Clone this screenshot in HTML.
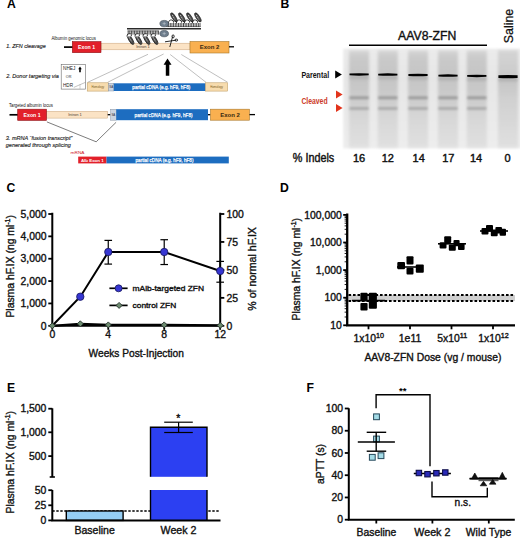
<!DOCTYPE html><html><head><meta charset="utf-8"><style>html,body{margin:0;padding:0;background:#fff;}svg{display:block;font-family:"Liberation Sans",sans-serif;}</style></head><body>
<svg width="520" height="538" viewBox="0 0 520 538">
<rect x="0" y="0" width="520" height="538" fill="#fff" stroke="none" stroke-width="0" />
<text x="7.0" y="8.4" font-size="12.2" fill="#000" font-weight="bold" font-style="normal" text-anchor="start" >A</text>
<text x="6.2" y="47.8" font-size="6" fill="#1e1e1e" font-weight="normal" font-style="italic" text-anchor="start" textLength="39.5" lengthAdjust="spacingAndGlyphs" stroke="#1e1e1e" stroke-width="0.15">1. ZFN cleavage</text>
<text x="51.5" y="40.3" font-size="4.8" fill="#111" font-weight="normal" font-style="normal" text-anchor="start" textLength="44.3" lengthAdjust="spacingAndGlyphs" >Albumin genomic locus</text>
<line x1="64" y1="47.1" x2="73" y2="47.1" stroke="#000" stroke-width="1.7" />
<rect x="101" y="43.2" width="89" height="6.6" fill="#fbe3c5" stroke="#c9a57c" stroke-width="0.5" />
<text x="143" y="48.0" font-size="4" fill="#4a4035" font-weight="normal" font-style="normal" text-anchor="middle" >Intron 1</text>
<rect x="72.3" y="41.6" width="28.7" height="11.1" fill="#e2202a" stroke="#8f1518" stroke-width="0.6" />
<text x="86.6" y="48.9" font-size="5.2" fill="#fff" font-weight="bold" font-style="normal" text-anchor="middle" >Exon 1</text>
<rect x="190" y="41.5" width="39" height="11.5" fill="#f9b050" stroke="#a8782a" stroke-width="0.6" />
<text x="209.5" y="49.4" font-size="6" fill="#3a2a10" font-weight="bold" font-style="normal" text-anchor="middle" >Exon 2</text>
<line x1="229" y1="46.8" x2="234" y2="46.8" stroke="#000" stroke-width="1.3" />
<line x1="127" y1="28.8" x2="201" y2="28.8" stroke="#2a2a2a" stroke-width="1.6" />
<line x1="127.5" y1="30.9" x2="158.5" y2="30.9" stroke="#444" stroke-width="0.6" />
<line x1="128.2" y1="30.6" x2="128.2" y2="34.6" stroke="#2a2a2a" stroke-width="0.85" />
<line x1="129.79999999999998" y1="30.6" x2="129.79999999999998" y2="34.6" stroke="#2a2a2a" stroke-width="0.85" />
<line x1="131.39999999999998" y1="30.6" x2="131.39999999999998" y2="34.6" stroke="#2a2a2a" stroke-width="0.85" />
<line x1="133.0" y1="30.6" x2="133.0" y2="34.6" stroke="#2a2a2a" stroke-width="0.85" />
<line x1="134.6" y1="30.6" x2="134.6" y2="34.6" stroke="#2a2a2a" stroke-width="0.85" />
<line x1="136.2" y1="30.6" x2="136.2" y2="34.6" stroke="#2a2a2a" stroke-width="0.85" />
<line x1="137.79999999999998" y1="30.6" x2="137.79999999999998" y2="34.6" stroke="#2a2a2a" stroke-width="0.85" />
<line x1="139.39999999999998" y1="30.6" x2="139.39999999999998" y2="34.6" stroke="#2a2a2a" stroke-width="0.85" />
<line x1="141.0" y1="30.6" x2="141.0" y2="34.6" stroke="#2a2a2a" stroke-width="0.85" />
<line x1="142.6" y1="30.6" x2="142.6" y2="34.6" stroke="#2a2a2a" stroke-width="0.85" />
<line x1="144.2" y1="30.6" x2="144.2" y2="34.6" stroke="#2a2a2a" stroke-width="0.85" />
<line x1="145.79999999999998" y1="30.6" x2="145.79999999999998" y2="34.6" stroke="#2a2a2a" stroke-width="0.85" />
<line x1="147.39999999999998" y1="30.6" x2="147.39999999999998" y2="34.6" stroke="#2a2a2a" stroke-width="0.85" />
<line x1="149.0" y1="30.6" x2="149.0" y2="34.6" stroke="#2a2a2a" stroke-width="0.85" />
<line x1="150.6" y1="30.6" x2="150.6" y2="34.6" stroke="#2a2a2a" stroke-width="0.85" />
<line x1="152.2" y1="30.6" x2="152.2" y2="34.6" stroke="#2a2a2a" stroke-width="0.85" />
<line x1="153.79999999999998" y1="30.6" x2="153.79999999999998" y2="34.6" stroke="#2a2a2a" stroke-width="0.85" />
<line x1="155.39999999999998" y1="30.6" x2="155.39999999999998" y2="34.6" stroke="#2a2a2a" stroke-width="0.85" />
<line x1="157.0" y1="30.6" x2="157.0" y2="34.6" stroke="#2a2a2a" stroke-width="0.85" />
<line x1="158.6" y1="30.6" x2="158.6" y2="34.6" stroke="#2a2a2a" stroke-width="0.85" />
<ellipse cx="130.7" cy="39.8" rx="5.3" ry="1.8" transform="rotate(60 130.7 39.8)" fill="#4a4a4a" stroke="#1e1e1e" stroke-width="0.7"/>
<path d="M129.0 37.2 L131.6 41.6" stroke="#f0f0f0" stroke-width="0.7" stroke-dasharray="1.6 0.8"/>
<path d="M126.8 36.4 Q127.0 33.0 130.2 33.6 Q132.2 34.4 131.2 36.4" stroke="#222" stroke-width="0.9" fill="#fff"/>
<ellipse cx="138.7" cy="39.8" rx="5.3" ry="1.8" transform="rotate(60 138.7 39.8)" fill="#4a4a4a" stroke="#1e1e1e" stroke-width="0.7"/>
<path d="M137.0 37.2 L139.6 41.6" stroke="#f0f0f0" stroke-width="0.7" stroke-dasharray="1.6 0.8"/>
<path d="M134.79999999999998 36.4 Q135.0 33.0 138.2 33.6 Q140.2 34.4 139.2 36.4" stroke="#222" stroke-width="0.9" fill="#fff"/>
<ellipse cx="146.7" cy="39.8" rx="5.3" ry="1.8" transform="rotate(60 146.7 39.8)" fill="#4a4a4a" stroke="#1e1e1e" stroke-width="0.7"/>
<path d="M145.0 37.2 L147.6 41.6" stroke="#f0f0f0" stroke-width="0.7" stroke-dasharray="1.6 0.8"/>
<path d="M142.79999999999998 36.4 Q143.0 33.0 146.2 33.6 Q148.2 34.4 147.2 36.4" stroke="#222" stroke-width="0.9" fill="#fff"/>
<ellipse cx="154.7" cy="39.8" rx="5.3" ry="1.8" transform="rotate(60 154.7 39.8)" fill="#4a4a4a" stroke="#1e1e1e" stroke-width="0.7"/>
<path d="M153.0 37.2 L155.6 41.6" stroke="#f0f0f0" stroke-width="0.7" stroke-dasharray="1.6 0.8"/>
<path d="M150.79999999999998 36.4 Q151.0 33.0 154.2 33.6 Q156.2 34.4 155.2 36.4" stroke="#222" stroke-width="0.9" fill="#fff"/>
<line x1="166.5" y1="26.6" x2="200.5" y2="26.6" stroke="#444" stroke-width="0.6" />
<line x1="167.0" y1="23.0" x2="167.0" y2="27" stroke="#2a2a2a" stroke-width="0.85" />
<line x1="168.65" y1="23.0" x2="168.65" y2="27" stroke="#2a2a2a" stroke-width="0.85" />
<line x1="170.3" y1="23.0" x2="170.3" y2="27" stroke="#2a2a2a" stroke-width="0.85" />
<line x1="171.95" y1="23.0" x2="171.95" y2="27" stroke="#2a2a2a" stroke-width="0.85" />
<line x1="173.6" y1="23.0" x2="173.6" y2="27" stroke="#2a2a2a" stroke-width="0.85" />
<line x1="175.25" y1="23.0" x2="175.25" y2="27" stroke="#2a2a2a" stroke-width="0.85" />
<line x1="176.9" y1="23.0" x2="176.9" y2="27" stroke="#2a2a2a" stroke-width="0.85" />
<line x1="178.55" y1="23.0" x2="178.55" y2="27" stroke="#2a2a2a" stroke-width="0.85" />
<line x1="180.2" y1="23.0" x2="180.2" y2="27" stroke="#2a2a2a" stroke-width="0.85" />
<line x1="181.85" y1="23.0" x2="181.85" y2="27" stroke="#2a2a2a" stroke-width="0.85" />
<line x1="183.5" y1="23.0" x2="183.5" y2="27" stroke="#2a2a2a" stroke-width="0.85" />
<line x1="185.15" y1="23.0" x2="185.15" y2="27" stroke="#2a2a2a" stroke-width="0.85" />
<line x1="186.8" y1="23.0" x2="186.8" y2="27" stroke="#2a2a2a" stroke-width="0.85" />
<line x1="188.45" y1="23.0" x2="188.45" y2="27" stroke="#2a2a2a" stroke-width="0.85" />
<line x1="190.1" y1="23.0" x2="190.1" y2="27" stroke="#2a2a2a" stroke-width="0.85" />
<line x1="191.75" y1="23.0" x2="191.75" y2="27" stroke="#2a2a2a" stroke-width="0.85" />
<line x1="193.4" y1="23.0" x2="193.4" y2="27" stroke="#2a2a2a" stroke-width="0.85" />
<line x1="195.05" y1="23.0" x2="195.05" y2="27" stroke="#2a2a2a" stroke-width="0.85" />
<line x1="196.7" y1="23.0" x2="196.7" y2="27" stroke="#2a2a2a" stroke-width="0.85" />
<line x1="198.35" y1="23.0" x2="198.35" y2="27" stroke="#2a2a2a" stroke-width="0.85" />
<line x1="200.0" y1="23.0" x2="200.0" y2="27" stroke="#2a2a2a" stroke-width="0.85" />
<ellipse cx="173.9" cy="17.4" rx="5.2" ry="1.8" transform="rotate(58 173.9 17.4)" fill="#4a4a4a" stroke="#1e1e1e" stroke-width="0.7"/>
<path d="M172.3 15.0 L174.9 19.6" stroke="#f0f0f0" stroke-width="0.7" stroke-dasharray="1.6 0.8"/>
<path d="M168.3 23.4 Q168.70000000000002 19.6 171.70000000000002 20.0 Q174.10000000000002 20.6 173.5 22.6" stroke="#222" stroke-width="0.9" fill="none"/>
<ellipse cx="181.9" cy="17.4" rx="5.2" ry="1.8" transform="rotate(58 181.9 17.4)" fill="#4a4a4a" stroke="#1e1e1e" stroke-width="0.7"/>
<path d="M180.3 15.0 L182.9 19.6" stroke="#f0f0f0" stroke-width="0.7" stroke-dasharray="1.6 0.8"/>
<path d="M176.3 23.4 Q176.70000000000002 19.6 179.70000000000002 20.0 Q182.10000000000002 20.6 181.5 22.6" stroke="#222" stroke-width="0.9" fill="none"/>
<ellipse cx="189.9" cy="17.4" rx="5.2" ry="1.8" transform="rotate(58 189.9 17.4)" fill="#4a4a4a" stroke="#1e1e1e" stroke-width="0.7"/>
<path d="M188.3 15.0 L190.9 19.6" stroke="#f0f0f0" stroke-width="0.7" stroke-dasharray="1.6 0.8"/>
<path d="M184.3 23.4 Q184.70000000000002 19.6 187.70000000000002 20.0 Q190.10000000000002 20.6 189.5 22.6" stroke="#222" stroke-width="0.9" fill="none"/>
<ellipse cx="197.9" cy="17.4" rx="5.2" ry="1.8" transform="rotate(58 197.9 17.4)" fill="#4a4a4a" stroke="#1e1e1e" stroke-width="0.7"/>
<path d="M196.3 15.0 L198.9 19.6" stroke="#f0f0f0" stroke-width="0.7" stroke-dasharray="1.6 0.8"/>
<path d="M192.3 23.4 Q192.70000000000002 19.6 195.70000000000002 20.0 Q198.10000000000002 20.6 197.5 22.6" stroke="#222" stroke-width="0.9" fill="none"/>
<ellipse cx="164.2" cy="23.6" rx="4.3" ry="3.2" fill="#6f7e8d" stroke="#3e4853" stroke-width="0.6"/>
<ellipse cx="164.2" cy="33.6" rx="4.3" ry="3.2" fill="#6f7e8d" stroke="#3e4853" stroke-width="0.6"/>
<path d="M162.6 23.6 h3.2 M164.2 22 v3.2 M162.6 33.6 h3.2 M164.2 32 v3.2" stroke="#c8d0d8" stroke-width="0.5"/>
<g stroke="#111" stroke-width="0.9" fill="none"><path d="M165 41.8 L176 40.2"/><path d="M169.8 47 L172.6 36.6"/><ellipse cx="173.1" cy="36.4" rx="1.1" ry="1.5"/><ellipse cx="176.3" cy="40.1" rx="1.4" ry="1"/></g>
<text x="6.2" y="78.4" font-size="6" fill="#1e1e1e" font-weight="normal" font-style="italic" text-anchor="start" textLength="52.7" lengthAdjust="spacingAndGlyphs" stroke="#1e1e1e" stroke-width="0.15">2. Donor targeting via</text>
<rect x="61.2" y="64.4" width="24.4" height="24.7" fill="#fff" stroke="#6a6a6a" stroke-width="0.6" />
<text x="63" y="70.3" font-size="4.6" fill="#222" font-weight="normal" font-style="normal" text-anchor="start" textLength="12.4" lengthAdjust="spacingAndGlyphs" >NHEJ</text>
<path d="M80 66.6 L81.8 69.3 L80.8 69.3 L80.8 72.3 L79.2 72.3 L79.2 69.3 L78.2 69.3 Z" fill="#000"/>
<text x="65.8" y="77.6" font-size="3.4" fill="#333" font-weight="normal" font-style="normal" text-anchor="start" textLength="5.6" lengthAdjust="spacingAndGlyphs" >OR</text>
<text x="63" y="86.7" font-size="4.6" fill="#222" font-weight="normal" font-style="normal" text-anchor="start" textLength="10" lengthAdjust="spacingAndGlyphs" >HDR</text>
<line x1="73.8" y1="87.4" x2="85.5" y2="82.3" stroke="#888" stroke-width="0.5" />
<line x1="80" y1="84" x2="80" y2="89" stroke="#aaa" stroke-width="0.5" />
<line x1="87.7" y1="82.3" x2="148" y2="54.3" stroke="#8a8a8a" stroke-width="0.55" />
<line x1="107.7" y1="82.3" x2="163.6" y2="54" stroke="#8a8a8a" stroke-width="0.55" />
<line x1="170.2" y1="54.5" x2="206" y2="82.3" stroke="#8a8a8a" stroke-width="0.55" />
<line x1="181.3" y1="54.5" x2="227.7" y2="82.3" stroke="#8a8a8a" stroke-width="0.55" />
<path d="M167.5 58.6 L171.5 64.8 L169.3 64.8 L169.3 75.7 L165.8 75.7 L165.8 64.8 L163.6 64.8 Z" fill="#000"/>
<rect x="87.2" y="82.8" width="21.3" height="8.3" fill="#f7dcae" stroke="#b8955a" stroke-width="0.5" />
<text x="97.8" y="88" font-size="2.8" fill="#7a5a20" font-weight="normal" font-style="normal" text-anchor="middle" >Homology</text>
<rect x="108.5" y="83.3" width="5.3" height="7.7" fill="#cad4e0" stroke="#7a8799" stroke-width="0.4" />
<text x="111.2" y="88.2" font-size="2.8" fill="#223" font-weight="normal" font-style="normal" text-anchor="middle" >SA</text>
<rect x="113.8" y="83.3" width="91.7" height="7.7" fill="#1d6dc0" stroke="none" stroke-width="0" />
<text x="132.3" y="89.1" font-size="5.2" fill="#fff" font-weight="normal" font-style="normal" text-anchor="start" textLength="58" lengthAdjust="spacingAndGlyphs" stroke="#fff" stroke-width="0.25">partial cDNA (e.g. hF9, hF8)</text>
<rect x="205.5" y="82.8" width="22.2" height="8.3" fill="#f7dcae" stroke="#b8955a" stroke-width="0.5" />
<text x="216.6" y="88" font-size="2.8" fill="#7a5a20" font-weight="normal" font-style="normal" text-anchor="middle" >Homology</text>
<text x="8.9" y="107.3" font-size="4.8" fill="#111" font-weight="normal" font-style="normal" text-anchor="start" textLength="44" lengthAdjust="spacingAndGlyphs" >Targeted albumin locus</text>
<line x1="9.5" y1="114.8" x2="18" y2="114.8" stroke="#000" stroke-width="1.7" />
<rect x="46.5" y="111.3" width="61.2" height="6.8" fill="#fbe3c5" stroke="#c9a57c" stroke-width="0.5" />
<text x="75" y="116.3" font-size="4" fill="#4a4035" font-weight="normal" font-style="normal" text-anchor="middle" >Intron 1</text>
<rect x="17.7" y="109.2" width="28.8" height="11.2" fill="#e2202a" stroke="#8f1518" stroke-width="0.6" />
<text x="32.1" y="116.6" font-size="5.2" fill="#fff" font-weight="bold" font-style="normal" text-anchor="middle" >Exon 1</text>
<line x1="107.7" y1="114.7" x2="110.5" y2="114.7" stroke="#000" stroke-width="1.3" />
<rect x="110.5" y="109.2" width="5.7" height="11" fill="#cad4e0" stroke="#7a8799" stroke-width="0.4" />
<text x="113.3" y="116.3" font-size="2.8" fill="#223" font-weight="normal" font-style="normal" text-anchor="middle" >SA</text>
<rect x="116.2" y="109.2" width="91.8" height="11" fill="#1d6dc0" stroke="none" stroke-width="0" />
<text x="134.6" y="117" font-size="5.6" fill="#fff" font-weight="normal" font-style="normal" text-anchor="start" textLength="58" lengthAdjust="spacingAndGlyphs" stroke="#fff" stroke-width="0.25">partial cDNA (e.g. hF9, hF8)</text>
<line x1="208" y1="114.7" x2="210.5" y2="114.7" stroke="#000" stroke-width="1.3" />
<rect x="210.5" y="109.2" width="39" height="11" fill="#f9b050" stroke="#a8782a" stroke-width="0.6" />
<text x="230" y="117" font-size="6" fill="#3a2a10" font-weight="bold" font-style="normal" text-anchor="middle" >Exon 2</text>
<line x1="249.5" y1="114.6" x2="255" y2="114.6" stroke="#000" stroke-width="1.3" />
<path d="M46.9 121.9 L96.2 141.8 L116.1 122.3" stroke="#444" stroke-width="0.7" fill="none"/>
<text x="5.8" y="140" font-size="6" fill="#1e1e1e" font-weight="normal" font-style="italic" text-anchor="start" textLength="66.5" lengthAdjust="spacingAndGlyphs" stroke="#1e1e1e" stroke-width="0.15">3. mRNA “fusion transcript”</text>
<text x="5.8" y="146.8" font-size="6" fill="#1e1e1e" font-weight="normal" font-style="italic" text-anchor="start" textLength="65" lengthAdjust="spacingAndGlyphs" stroke="#1e1e1e" stroke-width="0.15">generated through splicing</text>
<text x="70.5" y="153.5" font-size="4.2" fill="#d0202a" font-weight="normal" font-style="normal" text-anchor="start" textLength="14" lengthAdjust="spacingAndGlyphs" >mRNA</text>
<rect x="78.2" y="156.6" width="28.3" height="6.8" fill="#e2202a" stroke="none" stroke-width="0" />
<text x="92.3" y="161.8" font-size="4.4" fill="#fff" font-weight="bold" font-style="normal" text-anchor="middle" >Alb Exon 1</text>
<rect x="106.5" y="156.6" width="122.3" height="6.8" fill="#1d6dc0" stroke="none" stroke-width="0" />
<text x="135.5" y="161.9" font-size="5.2" fill="#fff" font-weight="normal" font-style="normal" text-anchor="start" textLength="58" lengthAdjust="spacingAndGlyphs" stroke="#fff" stroke-width="0.25">partial cDNA (e.g. hF9, hF8)</text>
<text x="280.4" y="8.4" font-size="12.2" fill="#000" font-weight="bold" font-style="normal" text-anchor="start" >B</text>
<text x="398.1" y="39.5" font-size="12" fill="#111" font-weight="normal" font-style="normal" text-anchor="start" textLength="58.2" lengthAdjust="spacingAndGlyphs" stroke="#111" stroke-width="0.36">AAV8-ZFN</text>
<line x1="349" y1="45.2" x2="487" y2="45.2" stroke="#000" stroke-width="1.5" />
<text x="0" y="0" font-size="12" fill="#111" stroke="#111" stroke-width="0.25" transform="translate(512.7,43.2) rotate(-90)" textLength="34.4" lengthAdjust="spacingAndGlyphs">Saline</text>
<defs>
<linearGradient id="lane" x1="0" y1="0" x2="0" y2="1">
<stop offset="0" stop-color="#d6d6d6"/><stop offset="0.07" stop-color="#cacaca"/><stop offset="0.2" stop-color="#c6c6c6"/>
<stop offset="0.31" stop-color="#c5c5c5"/><stop offset="0.41" stop-color="#c9c9c9"/><stop offset="0.52" stop-color="#cdcdcd"/><stop offset="0.67" stop-color="#d6d6d6"/><stop offset="1" stop-color="#e0e0e0"/></linearGradient>
<linearGradient id="lane6" x1="0" y1="0" x2="0" y2="1">
<stop offset="0" stop-color="#d4d4d4"/><stop offset="0.2" stop-color="#cdcdcd"/><stop offset="0.32" stop-color="#c6c6c6"/><stop offset="0.5" stop-color="#d0d0d0"/><stop offset="1" stop-color="#e0e0e0"/></linearGradient>
<linearGradient id="gelbg" x1="0" y1="0" x2="0" y2="1">
<stop offset="0" stop-color="#ebebeb"/><stop offset="0.3" stop-color="#e6e6e6"/><stop offset="1" stop-color="#ededed"/></linearGradient>
<filter id="blur1" x="-20%" y="-100%" width="140%" height="300%"><feGaussianBlur stdDeviation="0.7"/></filter>
<filter id="blur1b" x="-20%" y="-100%" width="140%" height="300%"><feGaussianBlur stdDeviation="0.9"/></filter>
<filter id="blur2" x="-30%" y="-10%" width="160%" height="120%"><feGaussianBlur stdDeviation="1.8"/></filter>
<filter id="blur3" x="-10%" y="-10%" width="120%" height="120%"><feGaussianBlur stdDeviation="1.0"/></filter>
</defs>
<g filter="url(#blur3)">
<rect x="343.3" y="48.8" width="178" height="99.6" fill="url(#gelbg)" stroke="none" stroke-width="0" />
</g>
<g filter="url(#blur2)">
<rect x="349.1" y="50.5" width="20" height="97" fill="url(#lane)" stroke="none" stroke-width="0" />
<rect x="377.8" y="50.5" width="20" height="97" fill="url(#lane)" stroke="none" stroke-width="0" />
<rect x="408.0" y="50.5" width="20" height="97" fill="url(#lane)" stroke="none" stroke-width="0" />
<rect x="438.0" y="50.5" width="20" height="97" fill="url(#lane)" stroke="none" stroke-width="0" />
<rect x="466.8" y="50.5" width="20" height="97" fill="url(#lane)" stroke="none" stroke-width="0" />
<rect x="498.0" y="50.5" width="20" height="97" fill="url(#lane6)" stroke="none" stroke-width="0" />
</g>
<g filter="url(#blur1b)">
<rect x="349.6" y="75.4" width="19" height="4" fill="#a8a8a8" stroke="none" stroke-width="0" opacity="0.6"/>
<rect x="349.6" y="96.39999999999999" width="19" height="2.8" fill="#9a9a9a" stroke="none" stroke-width="0" />
<rect x="349.6" y="107.0" width="19" height="2.8" fill="#aaaaaa" stroke="none" stroke-width="0" />
<rect x="378.3" y="75.6" width="19" height="4" fill="#a8a8a8" stroke="none" stroke-width="0" opacity="0.6"/>
<rect x="378.3" y="96.39999999999999" width="19" height="2.8" fill="#9a9a9a" stroke="none" stroke-width="0" />
<rect x="378.3" y="107.0" width="19" height="2.8" fill="#aaaaaa" stroke="none" stroke-width="0" />
<rect x="408.5" y="76.0" width="19" height="4" fill="#a8a8a8" stroke="none" stroke-width="0" opacity="0.6"/>
<rect x="408.5" y="96.39999999999999" width="19" height="2.8" fill="#9a9a9a" stroke="none" stroke-width="0" />
<rect x="408.5" y="107.0" width="19" height="2.8" fill="#aaaaaa" stroke="none" stroke-width="0" />
<rect x="438.5" y="76.6" width="19" height="4" fill="#a8a8a8" stroke="none" stroke-width="0" opacity="0.6"/>
<rect x="438.5" y="96.39999999999999" width="19" height="2.8" fill="#9a9a9a" stroke="none" stroke-width="0" />
<rect x="438.5" y="107.0" width="19" height="2.8" fill="#aaaaaa" stroke="none" stroke-width="0" />
<rect x="467.3" y="76.9" width="19" height="4" fill="#a8a8a8" stroke="none" stroke-width="0" opacity="0.6"/>
<rect x="467.3" y="96.39999999999999" width="19" height="2.8" fill="#9a9a9a" stroke="none" stroke-width="0" />
<rect x="467.3" y="107.0" width="19" height="2.8" fill="#aaaaaa" stroke="none" stroke-width="0" />
<rect x="498.5" y="77.6" width="19" height="4" fill="#a8a8a8" stroke="none" stroke-width="0" opacity="0.6"/>
</g>
<g filter="url(#blur1)">
<path d="M349.5 73.45 Q359.1 72.85000000000001 368.70000000000005 73.45 L368.70000000000005 75.35000000000001 Q359.1 75.95 349.5 75.35000000000001 Z" fill="#050505"/>
<path d="M378.2 73.64999999999999 Q387.8 73.05 397.40000000000003 73.64999999999999 L397.40000000000003 75.55 Q387.8 76.14999999999999 378.2 75.55 Z" fill="#050505"/>
<path d="M408.4 74.05 Q418.0 73.45 427.6 74.05 L427.6 75.95 Q418.0 76.55 408.4 75.95 Z" fill="#050505"/>
<path d="M438.4 74.64999999999999 Q448.0 74.05 457.6 74.64999999999999 L457.6 76.55 Q448.0 77.14999999999999 438.4 76.55 Z" fill="#050505"/>
<path d="M467.2 74.95 Q476.8 74.35000000000001 486.40000000000003 74.95 L486.40000000000003 76.85000000000001 Q476.8 77.45 467.2 76.85000000000001 Z" fill="#050505"/>
<path d="M498.4 75.3 Q508.0 74.7 517.6 75.3 L517.6 77.89999999999999 Q508.0 78.49999999999999 498.4 77.89999999999999 Z" fill="#050505"/>
</g>
<text x="301.4" y="77.7" font-size="8.5" fill="#111" font-weight="bold" font-style="normal" text-anchor="start" textLength="27.7" lengthAdjust="spacingAndGlyphs" >Parental</text>
<path d="M335.2 70.6 L341.9 74.5 L335.2 78.4 Z" fill="#000"/>
<text x="301.4" y="103.8" font-size="8.5" fill="#cc3a28" font-weight="bold" font-style="normal" text-anchor="start" textLength="26.2" lengthAdjust="spacingAndGlyphs" >Cleaved</text>
<path d="M336.0 90.6 L342.6 94.5 L336.0 98.4 Z" fill="#e2341c"/>
<path d="M336.0 104.1 L342.6 108.0 L336.0 111.9 Z" fill="#e2341c"/>
<text x="292.8" y="161.5" font-size="12.2" fill="#111" font-weight="normal" font-style="normal" text-anchor="start" textLength="41.4" lengthAdjust="spacingAndGlyphs" stroke="#111" stroke-width="0.42">% Indels</text>
<text x="359.1" y="161.6" font-size="11" fill="#111" font-weight="normal" font-style="normal" text-anchor="middle" stroke="#111" stroke-width="0.42">16</text>
<text x="387.8" y="161.6" font-size="11" fill="#111" font-weight="normal" font-style="normal" text-anchor="middle" stroke="#111" stroke-width="0.42">12</text>
<text x="418.7" y="161.6" font-size="11" fill="#111" font-weight="normal" font-style="normal" text-anchor="middle" stroke="#111" stroke-width="0.42">14</text>
<text x="448.3" y="161.6" font-size="11" fill="#111" font-weight="normal" font-style="normal" text-anchor="middle" stroke="#111" stroke-width="0.42">17</text>
<text x="476.0" y="161.6" font-size="11" fill="#111" font-weight="normal" font-style="normal" text-anchor="middle" stroke="#111" stroke-width="0.42">14</text>
<text x="507.6" y="161.6" font-size="11" fill="#111" font-weight="normal" font-style="normal" text-anchor="middle" stroke="#111" stroke-width="0.42">0</text>
<text x="6.6" y="192.4" font-size="12.2" fill="#000" font-weight="bold" font-style="normal" text-anchor="start" >C</text>
<path d="M52.3 212.8 L52.3 325.8 L220.2 325.8 L220.2 212.8" stroke="#000" stroke-width="2" fill="none"/>
<line x1="48.3" y1="325.8" x2="52.3" y2="325.8" stroke="#000" stroke-width="1.8" />
<text x="46.6" y="329.5" font-size="10.4" fill="#111" font-weight="normal" font-style="normal" text-anchor="end" stroke="#111" stroke-width="0.36">0</text>
<line x1="48.3" y1="303.44" x2="52.3" y2="303.44" stroke="#000" stroke-width="1.8" />
<text x="46.6" y="307.14" font-size="10.4" fill="#111" font-weight="normal" font-style="normal" text-anchor="end" stroke="#111" stroke-width="0.36">1,000</text>
<line x1="48.3" y1="281.08000000000004" x2="52.3" y2="281.08000000000004" stroke="#000" stroke-width="1.8" />
<text x="46.6" y="284.78000000000003" font-size="10.4" fill="#111" font-weight="normal" font-style="normal" text-anchor="end" stroke="#111" stroke-width="0.36">2,000</text>
<line x1="48.3" y1="258.72" x2="52.3" y2="258.72" stroke="#000" stroke-width="1.8" />
<text x="46.6" y="262.42" font-size="10.4" fill="#111" font-weight="normal" font-style="normal" text-anchor="end" stroke="#111" stroke-width="0.36">3,000</text>
<line x1="48.3" y1="236.36" x2="52.3" y2="236.36" stroke="#000" stroke-width="1.8" />
<text x="46.6" y="240.06" font-size="10.4" fill="#111" font-weight="normal" font-style="normal" text-anchor="end" stroke="#111" stroke-width="0.36">4,000</text>
<line x1="48.3" y1="214.00000000000003" x2="52.3" y2="214.00000000000003" stroke="#000" stroke-width="1.8" />
<text x="46.6" y="217.70000000000002" font-size="10.4" fill="#111" font-weight="normal" font-style="normal" text-anchor="end" stroke="#111" stroke-width="0.36">5,000</text>
<line x1="220.2" y1="325.8" x2="224.3" y2="325.8" stroke="#000" stroke-width="1.8" />
<text x="226.4" y="329.5" font-size="10.4" fill="#111" font-weight="normal" font-style="normal" text-anchor="start" stroke="#111" stroke-width="0.36">0</text>
<line x1="220.2" y1="297.85" x2="224.3" y2="297.85" stroke="#000" stroke-width="1.8" />
<text x="226.4" y="301.55" font-size="10.4" fill="#111" font-weight="normal" font-style="normal" text-anchor="start" stroke="#111" stroke-width="0.36">25</text>
<line x1="220.2" y1="269.90000000000003" x2="224.3" y2="269.90000000000003" stroke="#000" stroke-width="1.8" />
<text x="226.4" y="273.6" font-size="10.4" fill="#111" font-weight="normal" font-style="normal" text-anchor="start" stroke="#111" stroke-width="0.36">50</text>
<line x1="220.2" y1="241.95000000000002" x2="224.3" y2="241.95000000000002" stroke="#000" stroke-width="1.8" />
<text x="226.4" y="245.65" font-size="10.4" fill="#111" font-weight="normal" font-style="normal" text-anchor="start" stroke="#111" stroke-width="0.36">75</text>
<line x1="220.2" y1="214.00000000000003" x2="224.3" y2="214.00000000000003" stroke="#000" stroke-width="1.8" />
<text x="226.4" y="217.70000000000002" font-size="10.4" fill="#111" font-weight="normal" font-style="normal" text-anchor="start" stroke="#111" stroke-width="0.36">100</text>
<line x1="52.3" y1="325.8" x2="52.3" y2="329.8" stroke="#000" stroke-width="1.8" />
<text x="52.3" y="337.6" font-size="10.4" fill="#111" font-weight="normal" font-style="normal" text-anchor="middle" stroke="#111" stroke-width="0.36">0</text>
<line x1="108.25999999999999" y1="325.8" x2="108.25999999999999" y2="329.8" stroke="#000" stroke-width="1.8" />
<text x="108.25999999999999" y="337.6" font-size="10.4" fill="#111" font-weight="normal" font-style="normal" text-anchor="middle" stroke="#111" stroke-width="0.36">4</text>
<line x1="164.22" y1="325.8" x2="164.22" y2="329.8" stroke="#000" stroke-width="1.8" />
<text x="164.22" y="337.6" font-size="10.4" fill="#111" font-weight="normal" font-style="normal" text-anchor="middle" stroke="#111" stroke-width="0.36">8</text>
<line x1="220.18" y1="325.8" x2="220.18" y2="329.8" stroke="#000" stroke-width="1.8" />
<text x="220.18" y="337.6" font-size="10.4" fill="#111" font-weight="normal" font-style="normal" text-anchor="middle" stroke="#111" stroke-width="0.36">12</text>
<text x="88.6" y="357.2" font-size="10.4" fill="#111" font-weight="normal" font-style="normal" text-anchor="start" textLength="95.2" lengthAdjust="spacingAndGlyphs" stroke="#111" stroke-width="0.36">Weeks Post-Injection</text>
<text x="0" y="0" font-size="10.4" fill="#111" stroke="#111" stroke-width="0.36" transform="translate(13.8,317.6) rotate(-90)" textLength="102.6" lengthAdjust="spacingAndGlyphs">Plasma hF.IX (ng ml<tspan dy="-4" font-size="7">-1</tspan><tspan dy="4">)</tspan></text>
<text x="0" y="0" font-size="10.4" fill="#111" stroke="#111" stroke-width="0.36" transform="translate(255.5,310.7) rotate(-90)" textLength="83.6" lengthAdjust="spacingAndGlyphs">% of normal hF.IX</text>
<polyline points="52.3,325.8 80.3,323.8 108.3,324.9 164.2,324.9 220.2,325.4" stroke="#000" stroke-width="2.3" fill="none"/>
<polyline points="52.3,325.8 80.3,296.7 108.3,252.0 164.2,252.0 220.2,271.0" stroke="#000" stroke-width="2" fill="none"/>
<line x1="108.25999999999999" y1="240.3848" x2="108.25999999999999" y2="264.0864" stroke="#000" stroke-width="1.2" />
<line x1="104.46" y1="240.3848" x2="112.05999999999999" y2="240.3848" stroke="#000" stroke-width="1.2" />
<line x1="104.46" y1="264.0864" x2="112.05999999999999" y2="264.0864" stroke="#000" stroke-width="1.2" />
<line x1="164.22" y1="239.714" x2="164.22" y2="264.53360000000004" stroke="#000" stroke-width="1.2" />
<line x1="160.42" y1="239.714" x2="168.02" y2="239.714" stroke="#000" stroke-width="1.2" />
<line x1="160.42" y1="264.53360000000004" x2="168.02" y2="264.53360000000004" stroke="#000" stroke-width="1.2" />
<line x1="220.18" y1="261.4032" x2="220.18" y2="282.19800000000004" stroke="#000" stroke-width="1.2" />
<line x1="216.38" y1="261.4032" x2="223.98000000000002" y2="261.4032" stroke="#000" stroke-width="1.2" />
<line x1="216.38" y1="282.19800000000004" x2="223.98000000000002" y2="282.19800000000004" stroke="#000" stroke-width="1.2" />
<path d="M52.3 322.8 L55.3 325.8 L52.3 328.8 L49.3 325.8 Z" fill="#6e8c70" stroke="#22302a" stroke-width="0.9"/>
<path d="M80.3 320.8 L83.3 323.8 L80.3 326.8 L77.3 323.8 Z" fill="#6e8c70" stroke="#22302a" stroke-width="0.9"/>
<path d="M108.3 321.9 L111.3 324.9 L108.3 327.9 L105.3 324.9 Z" fill="#6e8c70" stroke="#22302a" stroke-width="0.9"/>
<path d="M164.2 321.9 L167.2 324.9 L164.2 327.9 L161.2 324.9 Z" fill="#6e8c70" stroke="#22302a" stroke-width="0.9"/>
<path d="M220.2 322.4 L223.2 325.4 L220.2 328.4 L217.2 325.4 Z" fill="#6e8c70" stroke="#22302a" stroke-width="0.9"/>
<circle cx="80.3" cy="296.7" r="3.7" fill="#3636d2" stroke="#16165a" stroke-width="0.8"/>
<circle cx="108.3" cy="252.0" r="3.7" fill="#3636d2" stroke="#16165a" stroke-width="0.8"/>
<circle cx="164.2" cy="252.0" r="3.7" fill="#3636d2" stroke="#16165a" stroke-width="0.8"/>
<circle cx="220.2" cy="271.0" r="3.7" fill="#3636d2" stroke="#16165a" stroke-width="0.8"/>
<line x1="109.4" y1="288.3" x2="127.6" y2="288.3" stroke="#000" stroke-width="1.7" />
<circle cx="118.6" cy="288.3" r="3.5" fill="#3636d2" stroke="#16165a" stroke-width="0.8"/>
<text x="132.6" y="290.6" font-size="7.6" fill="#111" font-weight="normal" font-style="normal" text-anchor="start" textLength="71.4" lengthAdjust="spacingAndGlyphs" stroke="#111" stroke-width="0.35">mAlb-targeted ZFN</text>
<line x1="109.4" y1="305.4" x2="127.6" y2="305.4" stroke="#000" stroke-width="1.7" />
<path d="M119.1 302.4 L122.1 305.4 L119.1 308.4 L116.1 305.4 Z" fill="#6e8c70" stroke="#22302a" stroke-width="0.9"/>
<text x="132.6" y="307.7" font-size="7.6" fill="#111" font-weight="normal" font-style="normal" text-anchor="start" textLength="43.6" lengthAdjust="spacingAndGlyphs" stroke="#111" stroke-width="0.35">control ZFN</text>
<text x="280.1" y="192.1" font-size="12.2" fill="#000" font-weight="bold" font-style="normal" text-anchor="start" >D</text>
<rect x="348.5" y="295" width="166.5" height="6" fill="#cfcfcf" stroke="none" stroke-width="0" />
<line x1="348.5" y1="295" x2="515" y2="295" stroke="#000" stroke-width="1.8" stroke-dasharray="2.6 1.9"/>
<line x1="348.5" y1="301" x2="515" y2="301" stroke="#000" stroke-width="1.8" stroke-dasharray="2.6 1.9"/>
<path d="M347.2 213.4 L347.2 325.3 L515 325.3" stroke="#000" stroke-width="2.3" fill="none"/>
<line x1="343.2" y1="325.3" x2="347.2" y2="325.3" stroke="#000" stroke-width="1.8" />
<text x="341.8" y="329.0" font-size="10.4" fill="#111" font-weight="normal" font-style="normal" text-anchor="end" stroke="#111" stroke-width="0.36">10</text>
<line x1="344.59999999999997" y1="316.9915721196741" x2="347.2" y2="316.9915721196741" stroke="#000" stroke-width="0.9" />
<line x1="344.59999999999997" y1="312.1314533697373" x2="347.2" y2="312.1314533697373" stroke="#000" stroke-width="0.9" />
<line x1="344.59999999999997" y1="308.6831442393482" x2="347.2" y2="308.6831442393482" stroke="#000" stroke-width="0.9" />
<line x1="344.59999999999997" y1="306.0084278803259" x2="347.2" y2="306.0084278803259" stroke="#000" stroke-width="0.9" />
<line x1="344.59999999999997" y1="303.82302548941146" x2="347.2" y2="303.82302548941146" stroke="#000" stroke-width="0.9" />
<line x1="344.59999999999997" y1="301.9752940956065" x2="347.2" y2="301.9752940956065" stroke="#000" stroke-width="0.9" />
<line x1="344.59999999999997" y1="300.3747163590224" x2="347.2" y2="300.3747163590224" stroke="#000" stroke-width="0.9" />
<line x1="344.59999999999997" y1="298.96290673947465" x2="347.2" y2="298.96290673947465" stroke="#000" stroke-width="0.9" />
<line x1="343.2" y1="297.7" x2="347.2" y2="297.7" stroke="#000" stroke-width="1.8" />
<text x="341.8" y="301.4" font-size="10.4" fill="#111" font-weight="normal" font-style="normal" text-anchor="end" stroke="#111" stroke-width="0.36">100</text>
<line x1="344.59999999999997" y1="289.3915721196741" x2="347.2" y2="289.3915721196741" stroke="#000" stroke-width="0.9" />
<line x1="344.59999999999997" y1="284.5314533697373" x2="347.2" y2="284.5314533697373" stroke="#000" stroke-width="0.9" />
<line x1="344.59999999999997" y1="281.0831442393482" x2="347.2" y2="281.0831442393482" stroke="#000" stroke-width="0.9" />
<line x1="344.59999999999997" y1="278.40842788032586" x2="347.2" y2="278.40842788032586" stroke="#000" stroke-width="0.9" />
<line x1="344.59999999999997" y1="276.22302548941144" x2="347.2" y2="276.22302548941144" stroke="#000" stroke-width="0.9" />
<line x1="344.59999999999997" y1="274.3752940956065" x2="347.2" y2="274.3752940956065" stroke="#000" stroke-width="0.9" />
<line x1="344.59999999999997" y1="272.77471635902236" x2="347.2" y2="272.77471635902236" stroke="#000" stroke-width="0.9" />
<line x1="344.59999999999997" y1="271.3629067394746" x2="347.2" y2="271.3629067394746" stroke="#000" stroke-width="0.9" />
<line x1="343.2" y1="270.1" x2="347.2" y2="270.1" stroke="#000" stroke-width="1.8" />
<text x="341.8" y="273.8" font-size="10.4" fill="#111" font-weight="normal" font-style="normal" text-anchor="end" stroke="#111" stroke-width="0.36">1,000</text>
<line x1="344.59999999999997" y1="261.79157211967413" x2="347.2" y2="261.79157211967413" stroke="#000" stroke-width="0.9" />
<line x1="344.59999999999997" y1="256.9314533697373" x2="347.2" y2="256.9314533697373" stroke="#000" stroke-width="0.9" />
<line x1="344.59999999999997" y1="253.48314423934826" x2="347.2" y2="253.48314423934826" stroke="#000" stroke-width="0.9" />
<line x1="344.59999999999997" y1="250.8084278803259" x2="347.2" y2="250.8084278803259" stroke="#000" stroke-width="0.9" />
<line x1="344.59999999999997" y1="248.62302548941145" x2="347.2" y2="248.62302548941145" stroke="#000" stroke-width="0.9" />
<line x1="344.59999999999997" y1="246.77529409560654" x2="347.2" y2="246.77529409560654" stroke="#000" stroke-width="0.9" />
<line x1="344.59999999999997" y1="245.17471635902237" x2="347.2" y2="245.17471635902237" stroke="#000" stroke-width="0.9" />
<line x1="344.59999999999997" y1="243.76290673947466" x2="347.2" y2="243.76290673947466" stroke="#000" stroke-width="0.9" />
<line x1="343.2" y1="242.5" x2="347.2" y2="242.5" stroke="#000" stroke-width="1.8" />
<text x="341.8" y="246.2" font-size="10.4" fill="#111" font-weight="normal" font-style="normal" text-anchor="end" stroke="#111" stroke-width="0.36">10,000</text>
<line x1="344.59999999999997" y1="234.1915721196741" x2="347.2" y2="234.1915721196741" stroke="#000" stroke-width="0.9" />
<line x1="344.59999999999997" y1="229.33145336973732" x2="347.2" y2="229.33145336973732" stroke="#000" stroke-width="0.9" />
<line x1="344.59999999999997" y1="225.88314423934824" x2="347.2" y2="225.88314423934824" stroke="#000" stroke-width="0.9" />
<line x1="344.59999999999997" y1="223.20842788032587" x2="347.2" y2="223.20842788032587" stroke="#000" stroke-width="0.9" />
<line x1="344.59999999999997" y1="221.02302548941142" x2="347.2" y2="221.02302548941142" stroke="#000" stroke-width="0.9" />
<line x1="344.59999999999997" y1="219.17529409560652" x2="347.2" y2="219.17529409560652" stroke="#000" stroke-width="0.9" />
<line x1="344.59999999999997" y1="217.57471635902235" x2="347.2" y2="217.57471635902235" stroke="#000" stroke-width="0.9" />
<line x1="344.59999999999997" y1="216.16290673947464" x2="347.2" y2="216.16290673947464" stroke="#000" stroke-width="0.9" />
<line x1="343.2" y1="214.9" x2="347.2" y2="214.9" stroke="#000" stroke-width="1.8" />
<text x="341.8" y="218.6" font-size="10.4" fill="#111" font-weight="normal" font-style="normal" text-anchor="end" stroke="#111" stroke-width="0.36">100,000</text>
<line x1="368.5" y1="325.3" x2="368.5" y2="329.3" stroke="#000" stroke-width="1.8" />
<line x1="410" y1="325.3" x2="410" y2="329.3" stroke="#000" stroke-width="1.8" />
<line x1="451.5" y1="325.3" x2="451.5" y2="329.3" stroke="#000" stroke-width="1.8" />
<line x1="493" y1="325.3" x2="493" y2="329.3" stroke="#000" stroke-width="1.8" />
<text x="353.5" y="342.2" font-size="10.4" fill="#111" font-weight="normal" font-style="normal" text-anchor="start" stroke="#111" stroke-width="0.36">1x10<tspan dy="-4.2" font-size="7.2">10</tspan></text>
<text x="398.8" y="342.2" font-size="10.4" fill="#111" font-weight="normal" font-style="normal" text-anchor="start" textLength="22.5" lengthAdjust="spacingAndGlyphs" stroke="#111" stroke-width="0.36">1e11</text>
<text x="437.2" y="342.2" font-size="10.4" fill="#111" font-weight="normal" font-style="normal" text-anchor="start" stroke="#111" stroke-width="0.36">5x10<tspan dy="-4.2" font-size="7.2">11</tspan></text>
<text x="478.3" y="342.2" font-size="10.4" fill="#111" font-weight="normal" font-style="normal" text-anchor="start" stroke="#111" stroke-width="0.36">1x10<tspan dy="-4.2" font-size="7.2">12</tspan></text>
<text x="364.4" y="361.2" font-size="10.4" fill="#111" font-weight="normal" font-style="normal" text-anchor="start" textLength="137" lengthAdjust="spacingAndGlyphs" stroke="#111" stroke-width="0.36">AAV8-ZFN Dose (vg / mouse)</text>
<text x="0" y="0" font-size="10.4" fill="#111" stroke="#111" stroke-width="0.36" transform="translate(300.2,320.5) rotate(-90)" textLength="102.6" lengthAdjust="spacingAndGlyphs">Plasma hF.IX (ng ml<tspan dy="-4" font-size="7">-1</tspan><tspan dy="4">)</tspan></text>
<line x1="352" y1="300.6" x2="385" y2="300.6" stroke="#000" stroke-width="1.6" />
<rect x="360.4" y="292.7" width="7.2000000000000455" height="8.100000000000023" fill="#000" stroke="none" stroke-width="0" rx="1"/>
<rect x="360.4" y="303" width="7.2000000000000455" height="7.399999999999977" fill="#000" stroke="none" stroke-width="0" rx="1"/>
<rect x="368.8" y="292.7" width="8.099999999999966" height="7.800000000000011" fill="#000" stroke="none" stroke-width="0" rx="1"/>
<rect x="368.8" y="301" width="8.099999999999966" height="7.800000000000011" fill="#000" stroke="none" stroke-width="0" rx="1"/>
<line x1="397" y1="267" x2="417" y2="267" stroke="#000" stroke-width="1.6" />
<rect x="397.3" y="262" width="7.699999999999989" height="7.199999999999989" fill="#000" stroke="none" stroke-width="0" rx="1"/>
<rect x="406.5" y="256.2" width="7.0" height="8.400000000000034" fill="#000" stroke="none" stroke-width="0" rx="1"/>
<rect x="406.5" y="267.7" width="7.0" height="6.900000000000034" fill="#000" stroke="none" stroke-width="0" rx="1"/>
<rect x="415.8" y="264.6" width="8.0" height="8.099999999999966" fill="#000" stroke="none" stroke-width="0" rx="1"/>
<line x1="438" y1="243.8" x2="466" y2="243.8" stroke="#000" stroke-width="1.6" />
<rect x="439.6" y="242.3" width="6.899999999999977" height="6.199999999999989" fill="#000" stroke="none" stroke-width="0" rx="1"/>
<rect x="444.2" y="236.2" width="7.0" height="6.800000000000011" fill="#000" stroke="none" stroke-width="0" rx="1"/>
<rect x="448.8" y="244.6" width="7.0" height="6.200000000000017" fill="#000" stroke="none" stroke-width="0" rx="1"/>
<rect x="453.5" y="240" width="6.100000000000023" height="6.199999999999989" fill="#000" stroke="none" stroke-width="0" rx="1"/>
<rect x="458" y="243.5" width="6.600000000000023" height="6.5" fill="#000" stroke="none" stroke-width="0" rx="1"/>
<line x1="480" y1="231" x2="508" y2="231" stroke="#000" stroke-width="1.6" />
<rect x="481.5" y="228" width="7.0" height="6.599999999999994" fill="#000" stroke="none" stroke-width="0" rx="1"/>
<rect x="486" y="225" width="7" height="6.5" fill="#000" stroke="none" stroke-width="0" rx="1"/>
<rect x="490.8" y="229.6" width="6.899999999999977" height="6.599999999999994" fill="#000" stroke="none" stroke-width="0" rx="1"/>
<rect x="495.4" y="227" width="6.600000000000023" height="6.5" fill="#000" stroke="none" stroke-width="0" rx="1"/>
<rect x="499.6" y="228.8" width="6.399999999999977" height="7.0" fill="#000" stroke="none" stroke-width="0" rx="1"/>
<text x="6.9" y="391.6" font-size="12.2" fill="#000" font-weight="bold" font-style="normal" text-anchor="start" >E</text>
<path d="M52.3 408.3 L52.3 477" stroke="#000" stroke-width="2" fill="none"/>
<line x1="49.699999999999996" y1="477" x2="54.9" y2="477" stroke="#000" stroke-width="1.6" />
<line x1="48.3" y1="408.7" x2="52.3" y2="408.7" stroke="#000" stroke-width="1.8" />
<text x="46.4" y="412.4" font-size="10.4" fill="#111" font-weight="normal" font-style="normal" text-anchor="end" stroke="#111" stroke-width="0.36">1,500</text>
<line x1="48.3" y1="432.3" x2="52.3" y2="432.3" stroke="#000" stroke-width="1.8" />
<text x="46.4" y="436.0" font-size="10.4" fill="#111" font-weight="normal" font-style="normal" text-anchor="end" stroke="#111" stroke-width="0.36">1,000</text>
<line x1="48.3" y1="456.1" x2="52.3" y2="456.1" stroke="#000" stroke-width="1.8" />
<text x="46.4" y="459.8" font-size="10.4" fill="#111" font-weight="normal" font-style="normal" text-anchor="end" stroke="#111" stroke-width="0.36">500</text>
<line x1="48.3" y1="490.2" x2="52.3" y2="490.2" stroke="#000" stroke-width="1.8" />
<text x="46.4" y="493.9" font-size="10.4" fill="#111" font-weight="normal" font-style="normal" text-anchor="end" stroke="#111" stroke-width="0.36">50</text>
<line x1="48.3" y1="505.3" x2="52.3" y2="505.3" stroke="#000" stroke-width="1.8" />
<text x="46.4" y="509.0" font-size="10.4" fill="#111" font-weight="normal" font-style="normal" text-anchor="end" stroke="#111" stroke-width="0.36">25</text>
<line x1="48.3" y1="520.4" x2="52.3" y2="520.4" stroke="#000" stroke-width="1.8" />
<text x="46.4" y="524.1" font-size="10.4" fill="#111" font-weight="normal" font-style="normal" text-anchor="end" stroke="#111" stroke-width="0.36">0</text>
<line x1="52.3" y1="511" x2="220" y2="511" stroke="#000" stroke-width="1.4" stroke-dasharray="2.4 1.6"/>
<rect x="66.3" y="511" width="56.8" height="9.4" fill="#95cdf3" stroke="#000" stroke-width="1.4" />
<rect x="150.5" y="427.3" width="56.5" height="49.5" fill="#2c40f2" stroke="none" stroke-width="0" />
<rect x="150.5" y="490" width="56.5" height="30.4" fill="#2c40f2" stroke="none" stroke-width="0" />
<path d="M150.5 476.8 L150.5 427.3 L207 427.3 L207 476.8 M150.5 490 L150.5 520.4 M207 490 L207 520.4" stroke="#000" stroke-width="1.4" fill="none"/>
<line x1="178.6" y1="422.2" x2="178.6" y2="432.5" stroke="#000" stroke-width="1.2" />
<line x1="164.2" y1="422.2" x2="192.8" y2="422.2" stroke="#000" stroke-width="1.2" />
<line x1="164.2" y1="432.5" x2="192.8" y2="432.5" stroke="#000" stroke-width="1.2" />
<text x="178.4" y="421.6" font-size="10.5" fill="#000" font-weight="normal" font-style="normal" text-anchor="middle" stroke="#111" stroke-width="0.36">*</text>
<path d="M52.3 490 L52.3 520.4 L220.5 520.4" stroke="#000" stroke-width="2" fill="none"/>
<text x="74.4" y="534.2" font-size="10.4" fill="#111" font-weight="normal" font-style="normal" text-anchor="start" textLength="40.4" lengthAdjust="spacingAndGlyphs" stroke="#111" stroke-width="0.36">Baseline</text>
<text x="178.5" y="534.2" font-size="10.4" fill="#111" font-weight="normal" font-style="normal" text-anchor="middle" textLength="36" lengthAdjust="spacingAndGlyphs" stroke="#111" stroke-width="0.36">Week 2</text>
<text x="0" y="0" font-size="10.4" fill="#111" stroke="#111" stroke-width="0.36" transform="translate(13.6,513.5) rotate(-90)" textLength="102.6" lengthAdjust="spacingAndGlyphs">Plasma hF.IX (ng ml<tspan dy="-4" font-size="7">-1</tspan><tspan dy="4">)</tspan></text>
<text x="306.5" y="391.6" font-size="12.2" fill="#000" font-weight="bold" font-style="normal" text-anchor="start" >F</text>
<path d="M348.8 408.3 L348.8 519.7 L514.8 519.7" stroke="#000" stroke-width="2" fill="none"/>
<line x1="344.8" y1="519.7" x2="348.8" y2="519.7" stroke="#000" stroke-width="1.8" />
<text x="343.0" y="523.4000000000001" font-size="10.4" fill="#111" font-weight="normal" font-style="normal" text-anchor="end" stroke="#111" stroke-width="0.36">0</text>
<line x1="344.8" y1="497.46000000000004" x2="348.8" y2="497.46000000000004" stroke="#000" stroke-width="1.8" />
<text x="343.0" y="501.16" font-size="10.4" fill="#111" font-weight="normal" font-style="normal" text-anchor="end" stroke="#111" stroke-width="0.36">20</text>
<line x1="344.8" y1="475.22" x2="348.8" y2="475.22" stroke="#000" stroke-width="1.8" />
<text x="343.0" y="478.92" font-size="10.4" fill="#111" font-weight="normal" font-style="normal" text-anchor="end" stroke="#111" stroke-width="0.36">40</text>
<line x1="344.8" y1="452.98" x2="348.8" y2="452.98" stroke="#000" stroke-width="1.8" />
<text x="343.0" y="456.68" font-size="10.4" fill="#111" font-weight="normal" font-style="normal" text-anchor="end" stroke="#111" stroke-width="0.36">60</text>
<line x1="344.8" y1="430.74" x2="348.8" y2="430.74" stroke="#000" stroke-width="1.8" />
<text x="343.0" y="434.44" font-size="10.4" fill="#111" font-weight="normal" font-style="normal" text-anchor="end" stroke="#111" stroke-width="0.36">80</text>
<line x1="344.8" y1="408.5" x2="348.8" y2="408.5" stroke="#000" stroke-width="1.8" />
<text x="343.0" y="412.2" font-size="10.4" fill="#111" font-weight="normal" font-style="normal" text-anchor="end" stroke="#111" stroke-width="0.36">100</text>
<line x1="376.3" y1="519.7" x2="376.3" y2="523.5" stroke="#000" stroke-width="1.8" />
<line x1="432.4" y1="519.7" x2="432.4" y2="523.5" stroke="#000" stroke-width="1.8" />
<line x1="488.8" y1="519.7" x2="488.8" y2="523.5" stroke="#000" stroke-width="1.8" />
<text x="356.6" y="535.7" font-size="10.4" fill="#111" font-weight="normal" font-style="normal" text-anchor="start" textLength="39.8" lengthAdjust="spacingAndGlyphs" stroke="#111" stroke-width="0.36">Baseline</text>
<text x="414.3" y="535.7" font-size="10.4" fill="#111" font-weight="normal" font-style="normal" text-anchor="start" textLength="36.1" lengthAdjust="spacingAndGlyphs" stroke="#111" stroke-width="0.36">Week 2</text>
<text x="465.8" y="535.7" font-size="10.4" fill="#111" font-weight="normal" font-style="normal" text-anchor="start" textLength="45.4" lengthAdjust="spacingAndGlyphs" stroke="#111" stroke-width="0.36">Wild Type</text>
<text x="0" y="0" font-size="10.4" fill="#111" stroke="#111" stroke-width="0.36" transform="translate(323.5,484) rotate(-90)" textLength="40" lengthAdjust="spacingAndGlyphs">aPTT (s)</text>
<path d="M376.1 408.3 L376.1 394.8 L430 394.8 L430 466.3" stroke="#000" stroke-width="1.4" fill="none"/>
<text x="402.8" y="394" font-size="8.5" fill="#000" font-weight="bold" font-style="normal" text-anchor="middle" textLength="7.5" lengthAdjust="spacingAndGlyphs" >**</text>
<path d="M432 481.6 L432 496.7 L487.3 496.7 L487.3 487.7" stroke="#000" stroke-width="1.4" fill="none"/>
<text x="454.6" y="505.8" font-size="10.4" fill="#111" font-weight="normal" font-style="normal" text-anchor="start" textLength="16.4" lengthAdjust="spacingAndGlyphs" stroke="#111" stroke-width="0.36">n.s.</text>
<rect x="373.6" y="413.90000000000003" width="5.8" height="5.8" fill="#a4dbe6" stroke="#24485a" stroke-width="1" />
<rect x="373.6" y="436.1" width="5.8" height="5.8" fill="#a4dbe6" stroke="#24485a" stroke-width="1" />
<rect x="369.40000000000003" y="454.40000000000003" width="5.8" height="5.8" fill="#a4dbe6" stroke="#24485a" stroke-width="1" />
<rect x="378.1" y="452.8" width="5.8" height="5.8" fill="#a4dbe6" stroke="#24485a" stroke-width="1" />
<line x1="357.8" y1="442" x2="394.9" y2="442" stroke="#000" stroke-width="1.6" />
<line x1="366.7" y1="432.3" x2="386.2" y2="432.3" stroke="#000" stroke-width="1.4" />
<line x1="366.7" y1="451.2" x2="386.2" y2="451.2" stroke="#000" stroke-width="1.4" />
<line x1="376.2" y1="432.3" x2="376.2" y2="451.2" stroke="#000" stroke-width="1.4" />
<line x1="413.8" y1="473.5" x2="450.9" y2="473.5" stroke="#000" stroke-width="1.6" />
<rect x="416.2" y="470.3" width="5.4" height="5.4" fill="#2a2ab8" stroke="#0c0c48" stroke-width="1.1" />
<rect x="424.8" y="471.5" width="5.4" height="5.4" fill="#2a2ab8" stroke="#0c0c48" stroke-width="1.1" />
<rect x="433.7" y="470.5" width="5.4" height="5.4" fill="#2a2ab8" stroke="#0c0c48" stroke-width="1.1" />
<rect x="442.6" y="469.8" width="5.4" height="5.4" fill="#2a2ab8" stroke="#0c0c48" stroke-width="1.1" />
<line x1="469.6" y1="478.8" x2="506.5" y2="478.8" stroke="#000" stroke-width="1.6" />
<rect x="478.5" y="477.0" width="20" height="4.2" fill="#5c5c5c" stroke="none" stroke-width="0" />
<line x1="469.6" y1="478.6" x2="506.5" y2="478.6" stroke="#000" stroke-width="1.5" />
<path d="M474.8 473 L478.1 478.8 L471.5 478.8 Z" fill="#111" stroke="#000" stroke-width="0.6"/>
<path d="M483.5 481.3 L486.8 485.8 L480.2 485.8 Z" fill="#111" stroke="#000" stroke-width="0.6"/>
<path d="M492.7 479.4 L496.0 484.2 L489.4 484.2 Z" fill="#111" stroke="#000" stroke-width="0.6"/>
<path d="M502.3 472.3 L505.6 478.8 L499.0 478.8 Z" fill="#111" stroke="#000" stroke-width="0.6"/>
</svg></body></html>
